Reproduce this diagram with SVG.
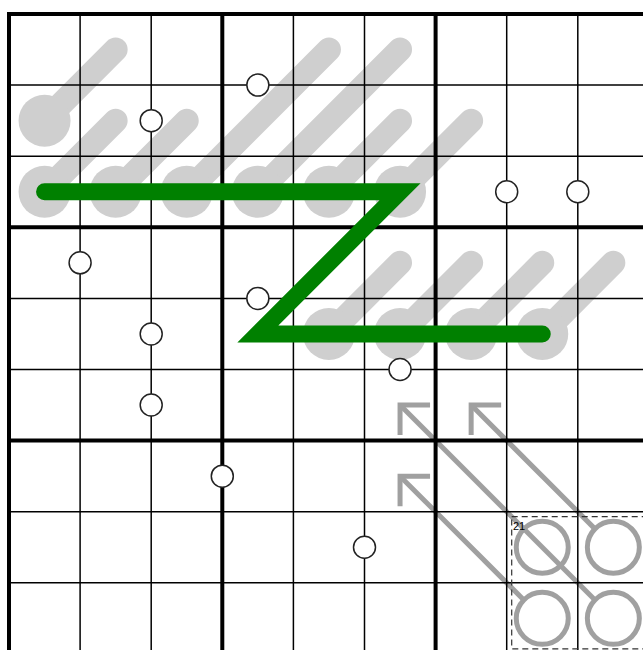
<svg xmlns="http://www.w3.org/2000/svg" width="643" height="650" viewBox="0 0 643 650">
<defs>
<style>
.thermo-line{stroke:#cfcfcf;stroke-width:24;stroke-linecap:round;fill:none}
.bulb{fill:#cfcfcf}
.arrow{stroke:#a0a0a0;stroke-width:5;fill:none;stroke-linejoin:miter;stroke-linecap:butt}
.arrow-circle{stroke:#a0a0a0;stroke-width:5;fill:none}
.thin{stroke:#000;stroke-width:1.5}
.thick{stroke:#000;stroke-width:4}
.dot{fill:#fff;stroke:#222;stroke-width:1.5}
.cage{fill:none;stroke:#333;stroke-width:1.2;stroke-dasharray:6,4}
.green{stroke:#008000;stroke-width:17;fill:none;stroke-linecap:round;stroke-linejoin:miter}
.label{font-family:"Liberation Sans",Arial,sans-serif;font-size:11px;fill:#000}
</style>
</defs>
<rect width="643" height="650" fill="#fff"/>
<g id="thermos">
<line class="thermo-line" x1="44.55" y1="120.65" x2="115.65" y2="49.55"/>
<line class="thermo-line" x1="44.55" y1="191.75" x2="115.65" y2="120.65"/>
<line class="thermo-line" x1="115.65" y1="191.75" x2="186.75" y2="120.65"/>
<line class="thermo-line" x1="186.75" y1="191.75" x2="328.95" y2="49.55"/>
<line class="thermo-line" x1="257.85" y1="191.75" x2="400.05" y2="49.55"/>
<line class="thermo-line" x1="328.95" y1="191.75" x2="400.05" y2="120.65"/>
<line class="thermo-line" x1="400.05" y1="191.75" x2="471.15" y2="120.65"/>
<line class="thermo-line" x1="328.95" y1="333.95" x2="400.05" y2="262.85"/>
<line class="thermo-line" x1="400.05" y1="333.95" x2="471.15" y2="262.85"/>
<line class="thermo-line" x1="471.15" y1="333.95" x2="542.25" y2="262.85"/>
<line class="thermo-line" x1="542.25" y1="333.95" x2="613.35" y2="262.85"/>
<circle class="bulb" cx="44.55" cy="120.65" r="26"/>
<circle class="bulb" cx="44.55" cy="191.75" r="26"/>
<circle class="bulb" cx="115.65" cy="191.75" r="26"/>
<circle class="bulb" cx="186.75" cy="191.75" r="26"/>
<circle class="bulb" cx="257.85" cy="191.75" r="26"/>
<circle class="bulb" cx="328.95" cy="191.75" r="26"/>
<circle class="bulb" cx="400.05" cy="191.75" r="26"/>
<circle class="bulb" cx="328.95" cy="333.95" r="26"/>
<circle class="bulb" cx="400.05" cy="333.95" r="26"/>
<circle class="bulb" cx="471.15" cy="333.95" r="26"/>
<circle class="bulb" cx="542.25" cy="333.95" r="26"/>
</g>
<g id="arrows">
<circle class="arrow-circle" cx="542.25" cy="547.25" r="26"/>
<circle class="arrow-circle" cx="613.35" cy="547.25" r="26"/>
<circle class="arrow-circle" cx="542.25" cy="618.35" r="26"/>
<circle class="arrow-circle" cx="613.35" cy="618.35" r="26"/>
<line class="arrow" x1="594.97" y1="528.87" x2="471.15" y2="405.05"/>
<polyline class="arrow" points="501.15,405.05 471.15,405.05 471.15,435.05"/>
<line class="arrow" x1="594.97" y1="599.97" x2="400.05" y2="405.05"/>
<polyline class="arrow" points="430.05,405.05 400.05,405.05 400.05,435.05"/>
<line class="arrow" x1="523.87" y1="599.97" x2="400.05" y2="476.15"/>
<polyline class="arrow" points="430.05,476.15 400.05,476.15 400.05,506.15"/>
</g>
<g id="grid">
<line class="thin" x1="80.1" y1="14" x2="80.1" y2="660"/>
<line class="thin" x1="151.2" y1="14" x2="151.2" y2="660"/>
<line class="thin" x1="293.4" y1="14" x2="293.4" y2="660"/>
<line class="thin" x1="364.5" y1="14" x2="364.5" y2="660"/>
<line class="thin" x1="506.7" y1="14" x2="506.7" y2="660"/>
<line class="thin" x1="577.8" y1="14" x2="577.8" y2="660"/>
<line class="thin" x1="9" y1="85.1" x2="650" y2="85.1"/>
<line class="thin" x1="9" y1="156.2" x2="650" y2="156.2"/>
<line class="thin" x1="9" y1="298.4" x2="650" y2="298.4"/>
<line class="thin" x1="9" y1="369.5" x2="650" y2="369.5"/>
<line class="thin" x1="9" y1="511.7" x2="650" y2="511.7"/>
<line class="thin" x1="9" y1="582.8" x2="650" y2="582.8"/>
<line class="thick" x1="9" y1="12" x2="9" y2="660"/>
<line class="thick" x1="222.3" y1="12" x2="222.3" y2="660"/>
<line class="thick" x1="435.6" y1="12" x2="435.6" y2="660"/>
<line class="thick" x1="7" y1="14" x2="650" y2="14"/>
<line class="thick" x1="7" y1="227.3" x2="650" y2="227.3"/>
<line class="thick" x1="7" y1="440.6" x2="650" y2="440.6"/>
</g>
<g id="cage">
<rect class="cage" x="511.7" y="516.7" width="132.2" height="132.2"/>
<text class="label" x="513" y="529.5">21</text>
</g>
<g id="connectors">
<polyline class="green" points="44.55,191.75 400.05,191.75 257.85,333.95 542.25,333.95"/>
</g>
<g id="dots">
<circle class="dot" cx="151.2" cy="120.65" r="11"/>
<circle class="dot" cx="257.85" cy="85.1" r="11"/>
<circle class="dot" cx="506.7" cy="191.75" r="11"/>
<circle class="dot" cx="577.8" cy="191.75" r="11"/>
<circle class="dot" cx="80.1" cy="262.85" r="11"/>
<circle class="dot" cx="257.85" cy="298.4" r="11"/>
<circle class="dot" cx="151.2" cy="333.95" r="11"/>
<circle class="dot" cx="151.2" cy="405.05" r="11"/>
<circle class="dot" cx="400.05" cy="369.5" r="11"/>
<circle class="dot" cx="222.3" cy="476.15" r="11"/>
<circle class="dot" cx="364.5" cy="547.25" r="11"/>
</g>
</svg>
